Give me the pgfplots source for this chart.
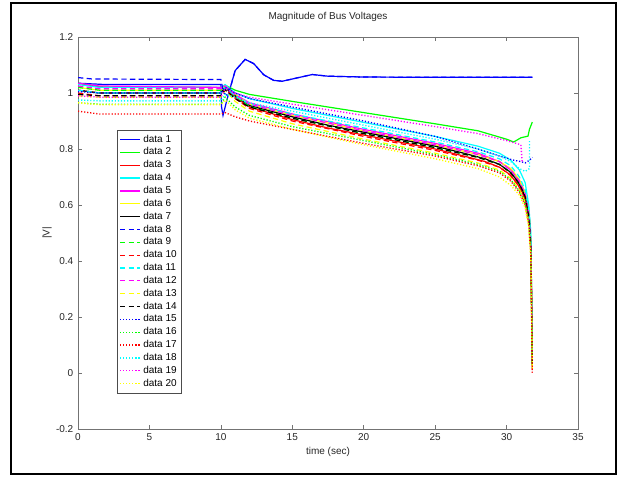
\documentclass[border=0pt]{standalone}
\usepackage{fontspec}
\setmainfont{Liberation Sans}
\usepackage{pgfplots}
\pgfplotsset{compat=1.18}
\definecolor{lineb}{rgb}{0,0,1}
\definecolor{lineg}{rgb}{0,1,0}
\definecolor{liner}{rgb}{1,0,0}
\definecolor{linec}{rgb}{0,1,1}
\definecolor{linem}{rgb}{1,0,1}
\definecolor{liney}{rgb}{1,1,0}
\definecolor{linek}{rgb}{0,0,0}
\begin{document}
\begin{tikzpicture}
\pgfplotsset{
  sl/.style={line width=0.9pt},
  dl/.style={line width=0.9pt, dash pattern=on 4pt off 2.5pt},
  tl/.style={line width=1pt, dash pattern=on 0.9pt off 1.4pt},
}
\begin{axis}[
  name=ax,
  scale only axis,
  width=375pt, height=294pt,
  xmin=0, xmax=35, ymin=-0.2, ymax=1.2,
  xtick={0,5,10,15,20,25,30,35},
  ytick={-0.2,0,0.2,0.4,0.6,0.8,1,1.2},
  tick align=inside,
  major tick length=3pt,
  axis line style={black!55, line width=0.6pt},
  tick style={black!55, line width=0.5pt},
  tick label style={font=\fontsize{7.5}{9}\selectfont, text=black!85},
  /pgf/number format/assume math mode=true,
  title={Magnitude of Bus Voltages},
  title style={font=\fontsize{7.5}{9}\selectfont, text=black!85, at={(axis description cs:0.5,1.031)}, anchor=center},
  xlabel={time (sec)},
  xlabel style={font=\fontsize{7.5}{9}\selectfont, text=black!85, at={(axis description cs:0.5,-0.059)}, anchor=center},
  ylabel={|V|},
  ylabel style={font=\fontsize{7.5}{9}\selectfont, text=black!85, at={(axis description cs:-0.062,0.5)}, anchor=center},
  legend cell align=left,
  legend style={at={(rel axis cs:0.078,0.763)}, anchor=north west,
    draw=black!70, line width=0.5pt, fill=white,
    font=\fontsize{7.5}{9}\selectfont,
    inner sep=1.5pt, row sep=-1.3pt},
  legend image code/.code={\draw[#1] (0pt,0pt) -- (15pt,0pt);},
]
% data 1
\addplot[color=lineb, sl] coordinates {(0,1.035)(2,1.03)(10,1.03)(10.05,0.95)(10.15,0.92)(10.5,0.99)(11,1.08)(11.7,1.12)(12.3,1.105)(13,1.065)(13.7,1.045)(14.3,1.042)(15,1.05)(16.4,1.066)(17.5,1.06)(20,1.057)(25,1.056)(31.8,1.056)};
% data 2
\addplot[color=lineg, sl] coordinates {(0,1.035)(1.5,1.022)(10,1.02)(10.3,1.028)(11,1.01)(12,0.995)(15,0.97)(20,0.93)(25,0.89)(28,0.865)(30,0.835)(30.5,0.825)(31,0.84)(31.5,0.846)(31.6,0.87)(31.8,0.896)};
% data 3
\addplot[color=liner, sl] coordinates {(0,1.01)(1.5,1.0)(10,1.0)(10.3,1.02)(11,0.985)(12,0.95)(15,0.905)(17.5,0.875)(20,0.85)(22.5,0.825)(25,0.8)(27,0.775)(28.5,0.755)(29.5,0.735)(30.2,0.71)(30.7,0.68)(31.1,0.645)(31.4,0.6)(31.6,0.54)(31.7,0.44)(31.75,0.3)(31.8,0.02)};
% data 4
\addplot[color=linec, sl] coordinates {(0,1.03)(1.5,1.02)(10,1.02)(10.3,1.03)(11,1.0)(12,0.98)(15,0.945)(20,0.895)(25,0.845)(28,0.81)(29.5,0.785)(30.3,0.76)(30.9,0.725)(31.3,0.68)(31.55,0.6)(31.7,0.5)(31.8,0.08)};
% data 5
\addplot[color=linem, sl] coordinates {(0,1.035)(1.5,1.025)(10,1.02)(10.3,1.025)(11,0.995)(12,0.965)(15,0.925)(20,0.87)(25,0.82)(28,0.785)(29.5,0.755)(30.3,0.725)(30.9,0.685)(31.3,0.64)(31.55,0.57)(31.7,0.46)(31.8,0.06)};
% data 6
\addplot[color=liney, sl] coordinates {(0,1.02)(1.5,1.01)(10,1.01)(10.3,1.025)(11,0.995)(12,0.96)(15,0.92)(20,0.865)(25,0.815)(28,0.78)(29.5,0.755)(30.3,0.73)(30.9,0.69)(31.3,0.645)(31.55,0.58)(31.7,0.47)(31.8,0.04)};
% data 7
\addplot[color=linek, sl] coordinates {(0,1.01)(1.5,1.0)(10,1.0)(10.3,1.02)(11,0.99)(12,0.955)(15,0.915)(17.5,0.885)(20,0.86)(22.5,0.835)(25,0.81)(27,0.785)(28.5,0.765)(29.5,0.745)(30.2,0.72)(30.7,0.69)(31.1,0.655)(31.4,0.61)(31.6,0.55)(31.7,0.45)(31.8,0.05)};
% data 8
\addplot[color=lineb, dl] coordinates {(0,1.055)(1,1.05)(10,1.048)(10.2,1.0)(10.5,0.99)(11,1.08)(11.7,1.12)(12.3,1.105)(13,1.065)(13.7,1.045)(14.3,1.042)(15,1.05)(16.4,1.066)(17.5,1.06)(20,1.057)(25,1.056)(31.8,1.056)};
% data 9
\addplot[color=lineg, dl] coordinates {(0,1.02)(1.5,1.01)(10,1.01)(10.3,1.022)(11,0.99)(12,0.952)(15,0.91)(20,0.855)(25,0.805)(28,0.77)(29.5,0.745)(30.3,0.715)(30.9,0.675)(31.3,0.63)(31.55,0.56)(31.7,0.45)(31.8,0.03)};
% data 10
\addplot[color=liner, dl] coordinates {(0,1.0)(1.5,0.99)(10,0.99)(10.3,1.015)(11,0.98)(12,0.945)(15,0.9)(20,0.845)(25,0.795)(28,0.76)(29.5,0.735)(30.3,0.705)(30.9,0.665)(31.3,0.62)(31.55,0.55)(31.7,0.44)(31.8,0.01)};
% data 11
\addplot[color=linec, dl] coordinates {(0,1.01)(1.5,1.0)(10,1.0)(10.3,1.02)(11,0.99)(12,0.96)(15,0.925)(20,0.875)(25,0.825)(28,0.79)(29.5,0.765)(30.3,0.74)(30.9,0.7)(31.3,0.655)(31.55,0.59)(31.7,0.48)(31.8,0.07)};
% data 12
\addplot[color=linem, dl] coordinates {(0,1.025)(1.5,1.015)(10,1.015)(10.3,1.025)(11,0.995)(12,0.96)(15,0.92)(20,0.865)(25,0.815)(28,0.78)(29.5,0.755)(30.3,0.725)(30.9,0.685)(31.3,0.64)(31.55,0.57)(31.7,0.46)(31.8,0.05)};
% data 13
\addplot[color=liney, dl] coordinates {(0,0.99)(1.5,0.985)(10,0.985)(10.3,1.01)(11,0.97)(12,0.935)(15,0.89)(20,0.835)(25,0.785)(28,0.75)(29.5,0.725)(30.3,0.695)(30.9,0.655)(31.3,0.61)(31.55,0.54)(31.7,0.43)(31.8,0.02)};
% data 14
\addplot[color=linek, dl] coordinates {(0,0.995)(1.5,0.99)(10,0.99)(10.3,1.012)(11,0.98)(12,0.95)(15,0.91)(20,0.855)(25,0.805)(28,0.77)(29.5,0.745)(30.3,0.715)(30.9,0.675)(31.3,0.63)(31.55,0.56)(31.7,0.45)(31.8,0.03)};
% data 15
\addplot[color=lineb, tl] coordinates {(0,1.005)(1.5,1.0)(10,1.0)(10.3,1.02)(11,1.0)(12,0.98)(15,0.95)(20,0.9)(25,0.845)(28,0.8)(29.5,0.775)(30.5,0.76)(31,0.755)(31.3,0.75)(31.6,0.76)(31.8,0.77)};
% data 16
\addplot[color=lineg, tl] coordinates {(0,0.965)(1.5,0.96)(10,0.96)(10.3,0.985)(11,0.95)(12,0.92)(15,0.88)(20,0.83)(25,0.78)(28,0.745)(29.5,0.72)(30.3,0.69)(30.9,0.65)(31.3,0.605)(31.55,0.535)(31.7,0.43)(31.8,0.02)};
% data 17
\addplot[color=liner, tl] coordinates {(0,0.935)(1.5,0.925)(10,0.925)(10.3,0.93)(11,0.915)(12,0.9)(13.4,0.886)(15,0.87)(20,0.82)(25,0.775)(28,0.74)(29.5,0.715)(30.3,0.685)(30.9,0.645)(31.3,0.6)(31.55,0.53)(31.7,0.42)(31.8,0.0)};
% data 18
\addplot[color=linec, tl] coordinates {(0,0.975)(1.5,0.972)(10,0.972)(10.3,0.995)(11,0.985)(12,0.965)(15,0.935)(20,0.885)(25,0.835)(28,0.8)(29.5,0.775)(30.3,0.755)(30.9,0.73)(31.3,0.72)(31.6,0.73)(31.6,0.83)};
% data 19
\addplot[color=linem, tl] coordinates {(0,0.99)(1.5,0.985)(10,0.985)(10.3,1.015)(11,1.0)(12,0.985)(15,0.96)(20,0.92)(25,0.88)(28,0.855)(30,0.83)(31,0.815)(31.1,0.75)};
% data 20
\addplot[color=liney, tl] coordinates {(0,0.965)(1.5,0.958)(10,0.958)(10.3,0.975)(11,0.94)(12,0.91)(15,0.87)(20,0.815)(25,0.765)(28,0.73)(29.5,0.7)(30.3,0.67)(30.9,0.635)(31.3,0.59)(31.55,0.52)(31.7,0.41)(31.8,0.01)};
\legend{data 1,data 2,data 3,data 4,data 5,data 6,data 7,data 8,data 9,data 10,data 11,data 12,data 13,data 14,data 15,data 16,data 17,data 18,data 19,data 20}
\end{axis}
\draw[line width=1.8pt] ([shift={(-50.25pt,-33.75pt)}]ax.south west) rectangle ([shift={(28.5pt,25.5pt)}]ax.north east);
\path ([shift={(-58.5pt,-36pt)}]ax.south west) rectangle ([shift={(31.5pt,27.75pt)}]ax.north east);
\end{tikzpicture}
\end{document}
